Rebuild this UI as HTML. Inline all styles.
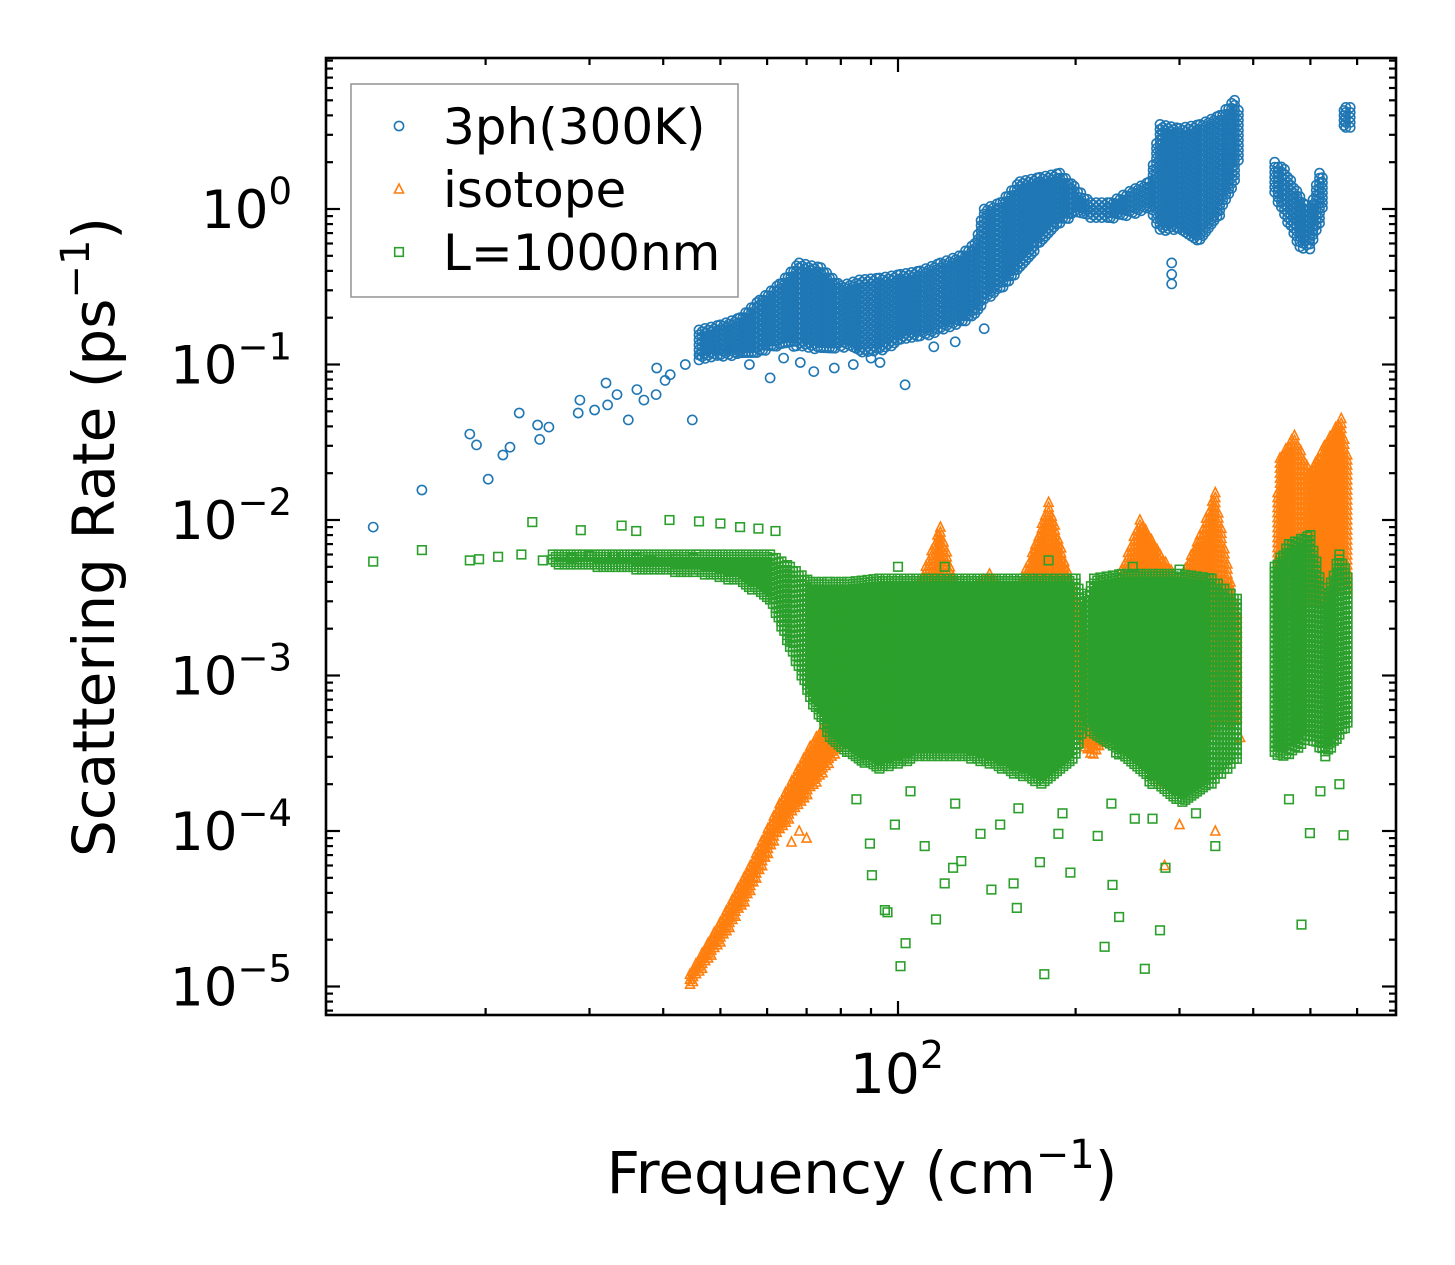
<!DOCTYPE html>
<html><head><meta charset="utf-8"><style>
body{margin:0;background:#fff;}
svg{display:block;font-family:"DejaVu Sans","Liberation Sans",sans-serif;}
</style></head><body>
<svg id="chart" width="1455" height="1265" viewBox="0 0 1455 1265" xmlns="http://www.w3.org/2000/svg">
<rect width="1455" height="1265" fill="#fff"/>
<g id="marks"></g>
<g id="axes"></g>
</svg>
<script>
// ---- data (frequency cm^-1, rate ps^-1) ----
const blueFreq = [12.9,15.6,18.8,19.3,20.2,21.4,22.0,22.8,24.5,24.7,25.6,28.7,28.9,30.6,32.0,32.2,33.4,34.9,36.1,37.1,38.9,39.0,40.3,41.1,43.6,44.8,46.1,49.9,54,60.7,68.3,86.3,93.2,102.8,291,291,291,56,64,72,78,84,90,115,125,140];
const blueRate = [0.0090,0.0156,0.0357,0.0304,0.0183,0.0262,0.0294,0.0488,0.0408,0.033,0.0396,0.0488,0.059,0.051,0.076,0.055,0.064,0.044,0.069,0.059,0.064,0.095,0.079,0.086,0.1,0.044,0.115,0.124,0.124,0.082,0.103,0.124,0.103,0.074,0.33,0.38,0.45,0.1,0.11,0.09,0.095,0.1,0.11,0.13,0.14,0.17];
const blueBandFreq = [46,50,54,58.3,63,68,74,80,86,93,101,109,118,127,135,140,149,161,174,188,199,212,229,247,267,278,300,325,351,372,383];
const blueBandLo   = [0.107,0.11,0.115,0.12,0.13,0.13,0.12,0.13,0.12,0.12,0.14,0.15,0.16,0.18,0.2,0.25,0.3,0.4,0.6,0.8,0.9,0.85,0.85,0.9,1.0,0.7,0.75,0.6,0.9,1.5,2.5];
const blueBandHi   = [0.167,0.18,0.2,0.26,0.33,0.45,0.42,0.32,0.35,0.36,0.38,0.4,0.45,0.5,0.6,1.0,1.1,1.5,1.6,1.7,1.4,1.1,1.1,1.3,1.5,3.5,3.3,3.5,4.0,5.0,4.0];
const blueBand2Freq = [435,452,480,499,518,530];
const blueBand2Lo   = [1.2,0.9,0.55,0.55,0.8,1.2];
const blueBand2Hi   = [2.0,1.8,1.2,1.0,1.7,1.6];
const blueBand3Freq = [570,574,584,590];
const blueBand3Lo   = [3.3,3.3,3.3,3.4];
const blueBand3Hi   = [4.3,4.5,4.5,4.3];

const orangeBandFreq = [44.4,50,56.2,63,71,80,86,93,101,109,118,127,143,157,171,180,196,212,229,257,278,300,325,345,366,380];
const orangeBandLo   = [1.0e-5,1.9e-5,4e-5,1e-4,1.8e-4,3.5e-4,5e-4,3e-4,4e-4,5e-4,6e-4,5e-4,5e-4,5e-4,6e-4,5e-4,5e-4,3e-4,4e-4,4e-4,2e-4,2e-4,3e-4,5e-4,5e-4,5e-4];
const orangeBandHi   = [1.2e-5,2.6e-5,6e-5,1.5e-4,3.5e-4,7e-4,1.5e-3,2e-3,3e-3,4e-3,9e-3,3e-3,4.5e-3,3e-3,7e-3,1.3e-2,4e-3,1.5e-3,3e-3,1e-2,6e-3,4e-3,8e-3,1.5e-2,4e-3,2e-3];
const orangeBand2Freq = [440,444,470,499,528,564,584];
const orangeBand2Lo   = [2e-3,2e-3,3e-3,3e-3,3e-3,4e-3,3e-3];
const orangeBand2Hi   = [1.5e-2,2.5e-2,3.5e-2,2e-2,3e-2,4.5e-2,2e-2];
const orangeFreq = [66,68,70,283,300,380,345];
const orangeRate = [8.5e-5,1.0e-4,9e-5,6e-5,1.1e-4,4e-4,1e-4];

const greenFreq = [12.9,15.6,18.8,19.5,21,23,25,28,30,33,36,38,42,45,24,29,34,36,41,46,50,54,58,62,90.3,95,96,103,101,116,120,124,128,144,159,157,174,177,224,231,237,278,262,483,499,569,196,187,218,252,284,345,138,149,111,89.6,98.8,85,105,125,160,190,230,270,320,460,520,560,100,120,180,250,300];
const greenRate = [0.0054,0.0064,0.0055,0.0056,0.0058,0.006,0.0055,0.0057,0.0059,0.0058,0.0057,0.0055,0.0056,0.0057,0.0097,0.0086,0.0092,0.0085,0.01,0.0098,0.0095,0.009,0.0088,0.0085,5.2e-5,3.1e-5,3.0e-5,1.9e-5,1.35e-5,2.7e-5,4.6e-5,5.8e-5,6.4e-5,4.2e-5,3.2e-5,4.6e-5,6.3e-5,1.2e-5,1.8e-5,4.5e-5,2.8e-5,2.3e-5,1.3e-5,2.5e-5,9.7e-5,9.4e-5,5.4e-5,9.6e-5,9.3e-5,1.2e-4,5.8e-5,8e-5,9.6e-5,1.1e-4,8e-5,8.3e-5,1.1e-4,1.6e-4,1.8e-4,1.5e-4,1.4e-4,1.3e-4,1.5e-4,1.2e-4,1.3e-4,1.6e-4,1.8e-4,2e-4,0.005,0.005,0.0055,0.005,0.0048];
const greenBandFreq = [26,46,54,60.7,65.6,71,76.7,82.9,93,110,130,150,175,200,207,215,240,270,300,340,380];
const greenBandLo   = [0.0052,0.0045,0.004,0.003,0.0015,0.0007,0.0004,0.0003,0.00025,0.0003,0.0003,0.00025,0.0002,0.0003,0.0005,0.0004,0.0003,0.0002,0.00015,0.0002,0.0003];
const greenBandHi   = [0.006,0.006,0.006,0.006,0.005,0.004,0.004,0.004,0.0042,0.0042,0.0042,0.0042,0.0042,0.0042,0.003,0.0042,0.0045,0.0045,0.0045,0.0042,0.003];
const greenBand2Freq = [435,460,500,530,560,584];
const greenBand2Lo   = [0.0003,0.0003,0.0004,0.0003,0.0004,0.0005];
const greenBand2Hi   = [0.005,0.007,0.008,0.003,0.006,0.004];

const yTickExps = [0,-1,-2,-3,-4,-5];
const xTickLabels = ["2"];

// ---- scales ----
const X0 = 326, X1 = 1396, Y0 = 58, Y1 = 1015;
function xs(f){ return 898 + 590*(Math.log10(f)-2); }
function ys(r){ return 209 - 155.5*Math.log10(r); }
const NS = "http://www.w3.org/2000/svg";
const marks = document.getElementById('marks');
const axes = document.getElementById('axes');
function mk(tag, attrs, parent){
  const e = document.createElementNS(NS, tag);
  for (const k in attrs) e.setAttribute(k, attrs[k]);
  parent.appendChild(e); return e;
}
const C = {b:'#1f77b4', o:'#ff7f0e', g:'#2ca02c'};
function marker(kind, x, y, g){
  let e;
  if (kind==='b') e = mk('circle',{cx:x.toFixed(1),cy:y.toFixed(1),r:4.6,fill:'none',stroke:C.b,'stroke-width':1.6},g);
  else if (kind==='o') e = mk('path',{d:`M${(x-4.5).toFixed(1)} ${(y+4).toFixed(1)}L${x.toFixed(1)} ${(y-5).toFixed(1)}L${(x+4.5).toFixed(1)} ${(y+4).toFixed(1)}Z`,fill:'none',stroke:C.o,'stroke-width':1.6},g);
  else e = mk('rect',{x:(x-4.3).toFixed(1),y:(y-4.3).toFixed(1),width:8.6,height:8.6,fill:'none',stroke:C.g,'stroke-width':1.6},g);
  return e;
}
function drawPoints(kind, F, R, name){
  const g = mk('g',{},marks);
  
  
  for (let i=0;i<F.length;i++){
    const m = marker(kind, xs(F[i]), ys(R[i]), g);
    
    
  }
}
function drawBand(kind, F, LO, HI, name){
  const g = mk('g',{},marks);
  
  
  for (let i=0;i<F.length-1;i++){
    const xa = xs(F[i]), xb = xs(F[i+1]);
    const n = Math.max(1, Math.round((xb-xa)/3));
    for (let k=0;k<n;k++){
      const t = k/n;
      const x = xa + (xb-xa)*t;
      const lo = ys(LO[i]) + (ys(LO[i+1])-ys(LO[i]))*t;
      const hi = ys(HI[i]) + (ys(HI[i+1])-ys(HI[i]))*t;
      const off = (k%2)*2.5;
      for (let y=hi+off; y<=lo; y+=5){ marker(kind, x, y, g); }
    }
  }
}
drawPoints('b', blueFreq, blueRate, 'series-3ph-scatter');
drawBand('b', blueBandFreq, blueBandLo, blueBandHi, 'series-3ph-band');
drawBand('b', blueBand2Freq, blueBand2Lo, blueBand2Hi, 'series-3ph-band-high');
drawBand('b', blueBand3Freq, blueBand3Lo, blueBand3Hi, 'series-3ph-band-top');
drawBand('o', orangeBandFreq, orangeBandLo, orangeBandHi, 'series-isotope-band');
drawBand('o', orangeBand2Freq, orangeBand2Lo, orangeBand2Hi, 'series-isotope-band-high');
drawPoints('o', orangeFreq, orangeRate, 'series-isotope-scatter');
drawBand('g', greenBandFreq, greenBandLo, greenBandHi, 'series-boundary-band');
drawBand('g', greenBand2Freq, greenBand2Lo, greenBand2Hi, 'series-boundary-band-high');
drawPoints('g', greenFreq, greenRate, 'series-boundary-scatter');

// ---- axes ----
const frame = mk('rect',{x:X0,y:Y0,width:X1-X0,height:Y1-Y0,fill:'none',stroke:'#000','stroke-width':2.6},axes);


function tick(x1,y1,x2,y2){ mk('line',{x1,y1,x2,y2,stroke:'#000','stroke-width':2.2},axes); }
for (let e=-6;e<=1;e++){
  for (let m=1;m<=9;m++){
    const y = ys(m*Math.pow(10,e));
    if (y<Y0||y>Y1) continue;
    const L = m===1?14:7;
    tick(X0,y,X0+L,y); tick(X1,y,X1-L,y);
  }
}
yTickExps.forEach(e=>{
  const y = ys(Math.pow(10,e));
  const t = mk('text',{x:292,y:y+19,'text-anchor':'end','font-size':53,fill:'#000'},axes);
  
  
  t.innerHTML = `10<tspan dy="-24" font-size="37">${e===0?'0':'\u2212'+(-e)}</tspan>`;
});
for (let e=1;e<=2;e++){
  for (let m=1;m<=9;m++){
    const x = xs(m*Math.pow(10,e));
    if (x<X0||x>X1) continue;
    const L = m===1?14:7;
    tick(x,Y1,x,Y1-L); tick(x,Y0,x,Y0+L);
  }
}
xTickLabels.forEach(l=>{
  const t = mk('text',{x:897,y:1093,'text-anchor':'middle','font-size':55,fill:'#000'},axes);
  
  
  t.innerHTML = `10<tspan dy="-25" font-size="38">${l}</tspan>`;
});
const xt = mk('text',{x:862,y:1193,'text-anchor':'middle','font-size':58,fill:'#000'},axes);


xt.innerHTML = 'Frequency (cm<tspan dy="-25" font-size="40">\u22121</tspan><tspan dy="25">)</tspan>';
const yt = mk('text',{x:0,y:0,'text-anchor':'middle','font-size':58,fill:'#000',transform:'translate(114,537) rotate(-90)'},axes);


yt.innerHTML = 'Scattering Rate (ps<tspan dy="-25" font-size="40">\u22121</tspan><tspan dy="25">)</tspan>';
// legend
const lg = mk('g',{},axes);


mk('rect',{x:351,y:84,width:387,height:213,fill:'#fff','fill-opacity':0.8,stroke:'#999','stroke-width':1.6},lg);
const entries = [['b','3ph(300K)',126],['o','isotope',189],['g','L=1000nm',252]];
entries.forEach(en=>{
  const eg = mk('g',{},lg);
  
  
  marker(en[0], 399, en[2], eg);
  const t = mk('text',{x:443,y:en[2]+18,'font-size':50,fill:'#000'},eg);
  t.textContent = en[1];
});
</script>
</body></html>
